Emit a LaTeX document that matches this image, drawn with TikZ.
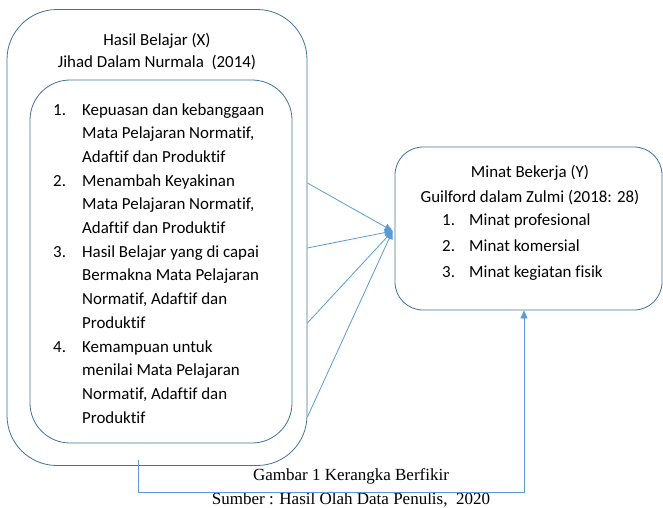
\documentclass[tikz,border=0pt]{standalone}
\usepackage{fontspec}
\setmainfont{Carlito}[Ligatures=NoCommon]
\newfontfamily\capfont{Liberation Serif}
\usetikzlibrary{arrows.meta,calc}
\definecolor{boxblue}{HTML}{41719C}
\definecolor{linkblue}{HTML}{5B9BD5}
\tikzset{
    box/.style={draw=boxblue,line width=0.8pt,rectangle},
    link/.style={draw=linkblue,line width=0.8pt,-{Triangle[width=7pt,length=8pt]}},
    txt/.style={inner sep=0pt,font=\fontsize{16.9}{23.7}\selectfont},
    captxt/.style={inner sep=0pt,font=\capfont\fontsize{17}{20}\selectfont},
}
\begin{document}
\begin{tikzpicture}[x=1pt,y=-1pt]
    \useasboundingbox (0,0) rectangle (663,507);
    \node[box,rounded corners=50pt,minimum width=300pt,minimum height=456pt](hasil) at (157,237.5) {};
    \node[box,rounded corners=40pt,minimum width=262pt,minimum height=363pt](indikx) at (161,261.5) {};
    \node[box,rounded corners=28pt,minimum width=267pt,minimum height=163pt](minat) at (528.5,228.5) {};
    \node[txt,anchor=base](judulx) at (157,45) {Hasil Belajar (X)};
    \node[txt,anchor=base](refx) at (157,67) {Jihad Dalam Nurmala\ \ (2014)};
    \node[txt,anchor=base west](listx) at (53,115) {\begin{tabular}[t]{@{}p{29pt}@{}l@{}}
    1. & Kepuasan dan kebanggaan\\
       & Mata Pelajaran Normatif,\\
       & Adaftif dan Produktif\\
    2. & Menambah Keyakinan\\
       & Mata Pelajaran Normatif,\\
       & Adaftif dan Produktif\\
    3. & Hasil Belajar yang di capai\\
       & Bermakna Mata Pelajaran\\
       & Normatif, Adaftif dan\\
       & Produktif\\
    4. & Kemampuan untuk\\
       & menilai Mata Pelajaran\\
       & Normatif, Adaftif dan\\
       & Produktif
    \end{tabular}};
    \node[txt,anchor=base](juduly) at (530,177) {Minat Bekerja (Y)};
    \node[txt,anchor=base](refy) at (530,202) {Guilford dalam Zulmi (2018: 28)};
    \node[txt,anchor=base west,font=\fontsize{16.9}{26}\selectfont](listy) at (442,225) {\begin{tabular}[t]{@{}p{27pt}@{}l@{}}
    1. & Minat profesional\\
    2. & Minat komersial\\
    3. & Minat kegiatan fisik
    \end{tabular}};
    \node[captxt,anchor=base](gambar) at (351,480) {Gambar 1 Kerangka Berfikir};
    \node[captxt,anchor=base](sumber) at (351,504) {Sumber : Hasil Olah Data Penulis,\ \ 2020};
    \coordinate (tip) at ($(minat.west)+(-2,2.5)$);
    \coordinate (turn) at (524,492);
    \foreach \y in {183,248,323,417}
        \draw[link] ($(hasil.east)+(0,\y-237.5)$) -- (tip);
    \draw[link] ([xshift=-19pt,yshift=6pt]hasil.south) |- (turn) -- ([xshift=-4.5pt]minat.south);
\end{tikzpicture}
\end{document}
